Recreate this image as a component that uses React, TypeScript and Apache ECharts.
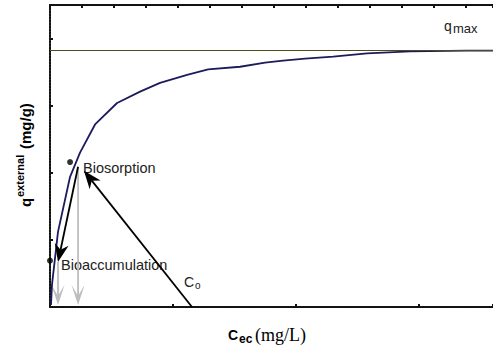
import React, { useEffect, useRef } from "react";
import * as echarts from "echarts";

// Curve: external q vs Ce (data units: x ticks every 1, y ticks every 1)
const ceX = [0.008, 0.016, 0.065, 0.163, 0.244, 0.366, 0.545, 0.732, 0.894, 1.114, 1.285, 1.545, 1.748, 1.894, 2.073, 2.301, 2.577, 2.927, 3.39, 3.6];
const qExt = [0.03, 0.33, 1.12, 1.94, 2.3, 2.72, 3.04, 3.21, 3.34, 3.46, 3.54, 3.58, 3.64, 3.67, 3.7, 3.73, 3.78, 3.81, 3.82, 3.82];
const qMax = 3.82;

// Arrows: [x1, y1, x2 (tip), y2 (tip)]
const blackArrows = [
  [1.154, 0, 0.276, 2.03],
  [0.228, 2.09, 0.065, 0.67],
];
const grayArrows = [
  [0.228, 2.07, 0.228, 0.03],
  [0.065, 0.67, 0.065, 0.03],
];
const dots = [
  [0.163, 2.16],
  [0, 0.69],
];

const SANS = "'Liberation Sans', Arial, sans-serif";
const SERIF = "'Liberation Serif', 'Times New Roman', serif";

function makeArrow(kind: "black" | "gray") {
  return (params: any, api: any) => {
    const a = api.coord([api.value(0), api.value(1)]);
    const b = api.coord([api.value(2), api.value(3)]);
    const dx = b[0] - a[0];
    const dy = b[1] - a[1];
    const len = Math.hypot(dx, dy) || 1;
    const ux = dx / len;
    const uy = dy / len;
    const px = -uy;
    const py = ux;
    const black = kind === "black";
    const L = black ? 18 : 20;
    const W = black ? 14 : 13;
    const notch = black ? 0.7 : 0.45;
    const color = black ? "#000000" : "#bdbdbd";
    const back = [b[0] - ux * L, b[1] - uy * L];
    const n = [b[0] - ux * L * notch, b[1] - uy * L * notch];
    const pts = [
      b,
      [back[0] + (px * W) / 2, back[1] + (py * W) / 2],
      n,
      [back[0] - (px * W) / 2, back[1] - (py * W) / 2],
    ];
    return {
      type: "group",
      children: [
        {
          type: "line",
          shape: { x1: a[0], y1: a[1], x2: n[0], y2: n[1] },
          style: { stroke: color, lineWidth: 1.8 },
        },
        { type: "polygon", shape: { points: pts }, style: { fill: color } },
      ],
    };
  };
}

// text helper: y given as baseline, converted to vertical middle
function txt(x: number, baseline: number, text: string, font: string, size: number, fill: string) {
  return {
    type: "text",
    x,
    y: baseline - 0.35 * size,
    style: { text, font: `${font} ${size}px ${font.includes("serif") ? "" : ""}`.trim(), fill, verticalAlign: "middle", align: "left" },
  };
}

export default function App() {
  const ref = useRef<HTMLDivElement>(null);
  useEffect(() => {
    if (!ref.current) return;
    const chart = echarts.init(ref.current, null, { renderer: "svg" });
    const frame = { color: "#111111", width: 2, type: [2, 1] as any };
    const t = (x: number, baseline: number, text: string, weight: string, size: number, family: string, fill = "#000") => ({
      type: "text",
      x,
      y: baseline - 0.35 * size,
      style: { text, font: `${weight} ${size}px ${family}`, fill, verticalAlign: "middle", align: "left" },
    });
    chart.setOption({
      animation: false,
      backgroundColor: "#ffffff",
      grid: { left: 50, top: 5, right: 0, bottom: 43 },
      xAxis: [
        {
          type: "value",
          position: "bottom",
          min: 0,
          max: 3.6,
          interval: 1,
          axisLine: { show: true, lineStyle: frame },
          axisTick: { show: true, inside: true, length: 3, lineStyle: { color: "#111", width: 2 } },
          axisLabel: { show: false },
          splitLine: { show: false },
        },
        {
          type: "value",
          position: "top",
          min: 0,
          max: 3.6,
          interval: 0.26,
          axisLine: { show: true, lineStyle: frame },
          axisTick: { show: true, inside: true, length: 3, lineStyle: { color: "#111", width: 2 } },
          axisLabel: { show: false },
          splitLine: { show: false },
        },
      ],
      yAxis: {
        type: "value",
        min: 0,
        max: 4.5,
        interval: 1,
        axisLine: { show: true, lineStyle: frame },
        axisTick: { show: true, inside: true, length: 3, lineStyle: { color: "#111", width: 2 } },
        axisLabel: { show: false },
        splitLine: { show: false },
      },
      series: [
        {
          type: "line",
          data: ceX.map((x, i) => [x, qExt[i]]),
          symbol: "none",
          lineStyle: { color: "#1c1c5c", width: 1.8 },
          markLine: {
            silent: true,
            symbol: "none",
            label: { show: false },
            lineStyle: { color: "#4d4d20", width: 1, type: "solid" },
            data: [{ yAxis: qMax }],
          },
          z: 3,
        },
        {
          type: "custom",
          renderItem: makeArrow("gray"),
          data: grayArrows,
          encode: { x: [0, 2], y: [1, 3] },
          z: 2,
        },
        {
          type: "custom",
          renderItem: makeArrow("black"),
          data: blackArrows,
          encode: { x: [0, 2], y: [1, 3] },
          z: 4,
        },
        {
          type: "scatter",
          data: dots,
          symbolSize: 6,
          itemStyle: { color: "#000" },
          clip: false,
          z: 5,
        },
      ],
      graphic: [
        t(83, 173, "Biosorption", "normal", 14.5, SANS, "#222"),
        t(61, 270, "Bioaccumulation", "normal", 14.5, SANS, "#222"),
        t(184, 287, "C", "normal", 14, SANS, "#222"),
        t(195, 289, "o", "normal", 10, SANS, "#222"),
        t(444, 31, "q", "normal", 14, SANS, "#222"),
        t(453, 33, "max", "normal", 13, SANS, "#222"),
        {
          type: "group",
          x: 31,
          y: 207,
          rotation: Math.PI / 2,
          children: [
            t(0, 0, "q", "bold", 15, SANS),
            t(10, -7, "external", "bold", 11, SANS),
            t(58, 0, "(mg/g)", "bold", 15, SANS),
          ],
        },
        t(228, 340, "C", "bold", 14, SANS),
        t(239, 343, "ec", "bold", 12, SANS),
        t(255, 341, "(mg/L)", "normal", 18, SERIF),
      ],
    });
    return () => chart.dispose();
  }, []);
  return (
    <div
      ref={ref}
      style={{ position: "absolute", left: 0, top: 0, width: 493, height: 350 }}
    />
  );
}
